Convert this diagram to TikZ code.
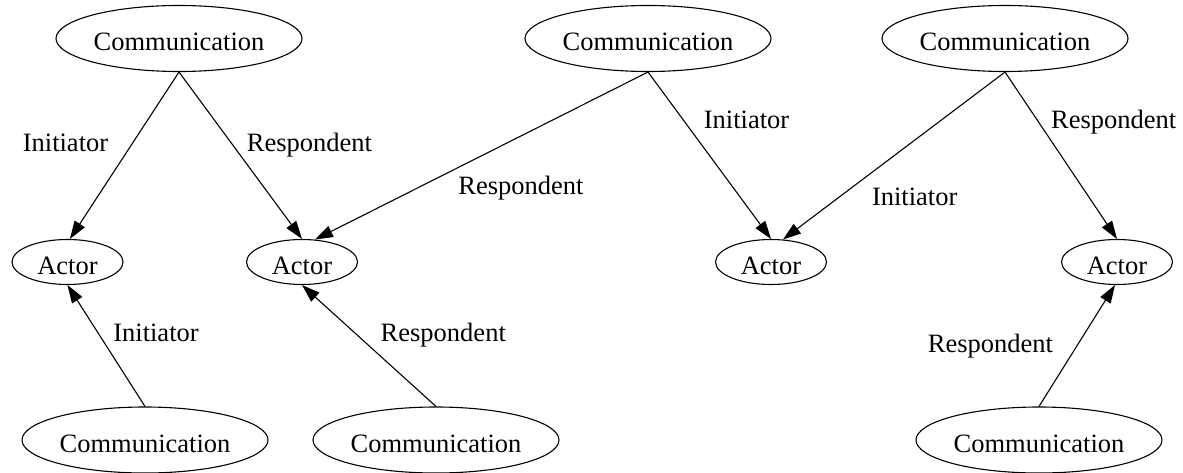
\documentclass[tikz,border=0pt]{standalone}
\usepackage{fontspec}
\setmainfont{Liberation Serif}
\usetikzlibrary{shapes.geometric,arrows.meta}
\tikzset{
  comm/.style={ellipse,draw,line width=1.1pt,inner sep=0pt,minimum width=246pt,minimum height=66pt,text height=24.5pt,text depth=0pt},
  actor/.style={ellipse,draw,line width=1.1pt,inner sep=0pt,minimum width=111pt,minimum height=45pt,text height=24.5pt,text depth=0pt},
  rel/.style={line width=1.1pt,-{Triangle[length=18pt,width=12pt]}},
  lab/.style={anchor=base,inner sep=0pt}
}
\begin{document}
\begin{tikzpicture}[x=1pt,y=-1pt,font=\fontsize{26.5}{30}\selectfont]
\useasboundingbox[fill=white] (0,0) rectangle (1183,473);

% communications, top row
\node[comm] (c1) at (179,38.5) {Communication};
\node[comm] (c2) at (648,38.5) {Communication};
\node[comm] (c3) at (1005,38.5) {Communication};

% actors
\node[actor] (a1) at (67.5,262) {Actor};
\node[actor] (a2) at (302,262) {Actor};
\node[actor] (a3) at (771,262) {Actor};
\node[actor] (a4) at (1117,262) {Actor};

% communications, bottom row
\node[comm] (c4) at (145,440) {Communication};
\node[comm] (c5) at (436,440) {Communication};
\node[comm] (c6) at (1039,440) {Communication};

% roles
\draw[rel] (c1.south) -- (a1.84);
\draw[rel] (c1.south) -- (a2.north);
\draw[rel] (c2.south) -- (a2.60);
\draw[rel] (c2.south) -- (a3.north);
\draw[rel] (c3.south) -- (a3.62);
\draw[rel] (c3.south) -- (a4.north);
\draw[rel] (c4.north) -- (a1.south);
\draw[rel] (c5.north) -- (a2.south);
\draw[rel] (c6.north) -- (a4.-95);

% role labels
\node[lab] (l1) at (65.5,151.7) {Initiator};
\node[lab] (l2) at (309.5,151.7) {Respondent};
\node[lab] (l3) at (521,195) {Respondent};
\node[lab] (l4) at (746.5,128.5) {Initiator};
\node[lab] (l5) at (914.7,206) {Initiator};
\node[lab] (l6) at (1113.7,128.5) {Respondent};
\node[lab] (l7) at (156,341) {Initiator};
\node[lab] (l8) at (443.3,341) {Respondent};
\node[lab] (l9) at (990.5,352) {Respondent};
\end{tikzpicture}
\end{document}
